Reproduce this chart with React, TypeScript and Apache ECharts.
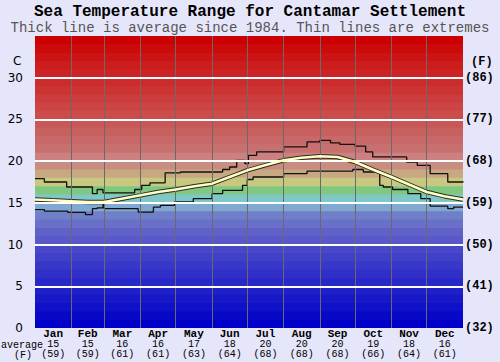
import { useEffect, useRef } from "react";
import * as echarts from "echarts";

const months = ["Jan", "Feb", "Mar", "Apr", "May", "Jun", "Jul", "Aug", "Sep", "Oct", "Nov", "Dec"];
const monthAvgC = [15, 15, 16, 16, 17, 18, 20, 20, 20, 19, 18, 16];
const monthAvgF = [59, 59, 61, 61, 63, 64, 68, 68, 68, 66, 64, 61];
const monthBoundaryDays = [31, 59, 90, 120, 151, 181, 212, 243, 273, 304, 334];
const monthMidDays = [15.5, 45, 74.5, 105, 135.5, 166, 196.5, 227.5, 258, 288.5, 319, 349.5];

const avgDays = [0, 15, 31, 45, 59, 74, 90, 105, 120, 136, 151, 166, 181, 196, 212, 227, 243, 258, 273, 288, 304, 319, 334, 349, 365];
const avgTemps = [15.4, 15.3, 15.2, 15.1, 15.1, 15.5, 15.9, 16.3, 16.6, 17.0, 17.3, 18.1, 18.9, 19.5, 20.1, 20.4, 20.6, 20.5, 19.9, 19.0, 18.1, 17.2, 16.3, 15.8, 15.4];

const maxDays = [0, 8, 27, 43, 49, 53, 58, 85, 91, 98, 111, 124, 160, 166, 172, 179, 182, 189, 212, 232, 243, 252, 260, 273, 282, 288, 317, 326, 337, 352, 365];
const maxTemps = [17.9, 17.5, 16.9, 16.9, 16.1, 16.6, 16.2, 16.6, 17.1, 17.4, 18.6, 18.7, 19.0, 19.3, 20.1, 19.7, 20.7, 21.1, 21.7, 22.3, 22.5, 22.2, 22.0, 21.8, 21.1, 20.5, 19.9, 19.5, 18.5, 17.5, 17.6];

const minDays = [0, 8, 28, 43, 49, 53, 58, 59, 88, 101, 107, 119, 135, 151, 160, 177, 181, 186, 212, 232, 271, 280, 294, 297, 305, 318, 329, 337, 352, 357, 365];
const minTemps = [14.2, 14.0, 13.85, 13.6, 14.3, 14.4, 15.0, 14.3, 13.9, 14.5, 14.7, 15.1, 15.5, 16.1, 16.5, 17.1, 17.8, 18.1, 18.5, 18.8, 19.0, 18.7, 17.1, 16.9, 16.6, 16.1, 15.5, 14.6, 14.3, 14.5, 14.5];

// one colour per 1°C band, from 0-1 up to 34-35
const bandColors = [
  "#0000c8", "#0808c8", "#1010c8", "#1818c8", "#2020c8",
  "#2828c8", "#3030c8", "#3838c8", "#4040c8", "#4848c8",
  "#5858c8", "#6060c8", "#6870c8", "#7080c8", "#80a8d0",
  "#80c8c8", "#80c880", "#c8c880", "#c8a880", "#c88c80",
  "#cc8080", "#c87070", "#c86868", "#c86060", "#c85858",
  "#cc4c4c", "#cc4444", "#cc3c3c", "#cc3434", "#cc2c2c",
  "#cc2424", "#cc1c1c", "#cc1414", "#cc0a0a", "#cc0000",
];
const whiteLineTemps = [5, 10, 15, 20, 25, 30];

const zip = (xs: number[], ys: number[]) => xs.map((x, i) => [x, ys[i]]);

export default function App() {
  const ref = useRef<HTMLDivElement>(null);
  useEffect(() => {
    if (!ref.current) return;
    const chart = echarts.init(ref.current, undefined, { renderer: "svg" });
    const mono = "Liberation Mono";
    chart.setOption({
      animation: false,
      backgroundColor: "#e6e6fa",
      title: {
        text: "Sea Temperature Range for Cantamar Settlement",
        subtext: "Thick line is average since 1984. Thin lines are extremes",
        left: "center",
        top: 4,
        itemGap: 1,
        padding: 0,
        textStyle: { fontFamily: mono, fontWeight: "bold", fontSize: 16, color: "#000" },
        subtextStyle: { fontFamily: mono, fontSize: 14, color: "#555" },
      },
      grid: { left: 35, right: 37, top: 36, bottom: 34 },
      xAxis: {
        type: "value",
        min: 0,
        max: 365,
        axisLine: { show: false },
        axisTick: { show: false },
        splitLine: { show: false },
        axisLabel: {
          customValues: monthMidDays,
          margin: 1,
          formatter: (v: number) => {
            const i = monthMidDays.indexOf(v);
            if (i < 0) return "";
            return `{m|${months[i]}}\n{c|${monthAvgC[i]}}\n{f|(${monthAvgF[i]})}`;
          },
          rich: {
            m: { fontFamily: mono, fontWeight: "bold", fontSize: 11, lineHeight: 10, color: "#000" },
            c: { fontFamily: mono, fontSize: 10, lineHeight: 10, color: "#000" },
            f: { fontFamily: mono, fontSize: 10, lineHeight: 10, color: "#000" },
          },
        },
      },
      yAxis: [
        {
          type: "value",
          min: 0,
          max: 35,
          interval: 5,
          axisLine: { show: false },
          axisTick: { show: false },
          splitLine: { show: false },
          axisLabel: {
            margin: 12,
            fontFamily: "DejaVu Sans",
            fontSize: 12,
            color: "#000",
            formatter: (v: number) => (v === 35 ? "" : String(v)),
          },
        },
        {
          type: "value",
          position: "right",
          min: 0,
          max: 35,
          interval: 5,
          axisLine: { show: false },
          axisTick: { show: false },
          splitLine: { show: false },
          axisLabel: {
            margin: 2,
            fontFamily: mono,
            fontWeight: "bold",
            fontSize: 12,
            color: "#000",
            formatter: (v: number) => (v === 35 ? "" : `(${Math.round((v * 9) / 5 + 32)})`),
          },
        },
      ],
      graphic: [
        { type: "text", left: 13, top: 55, style: { text: "C", font: "12px DejaVu Sans", fill: "#000" } },
        { type: "text", left: 471, top: 56, style: { text: "(F)", font: "bold 12px Liberation Mono", fill: "#000" } },
        { type: "text", left: 1, top: 340, style: { text: "average", font: "10px Liberation Mono", fill: "#000" } },
        { type: "text", left: 14, top: 350, style: { text: "(F)", font: "10px Liberation Mono", fill: "#000" } },
      ],
      series: [
        {
          type: "line",
          z: 1,
          data: [[0, 0]],
          symbol: "none",
          lineStyle: { opacity: 0 },
          silent: true,
          markArea: {
            silent: true,
            label: { show: false },
            // each band drawn from its floor to the top; later bands cover earlier ones
            data: bandColors.map((c, i) => [
              { yAxis: i, itemStyle: { color: c, opacity: 1, borderWidth: 0 } },
              { yAxis: 35 },
            ]),
          },
        },
        {
          type: "line",
          z: 2,
          data: [[0, 0]],
          symbol: "none",
          lineStyle: { opacity: 0 },
          silent: true,
          markLine: {
            silent: true,
            symbol: ["none", "none"],
            label: { show: false },
            data: [
              ...monthBoundaryDays.map((d) => ({ xAxis: d, lineStyle: { color: "#6a6a6a", width: 1, type: "solid" } })),
              ...whiteLineTemps.map((t) => ({ yAxis: t, lineStyle: { color: "#ffffff", width: 2, type: "solid" } })),
            ],
          },
        },
        {
          type: "line",
          z: 3,
          data: zip(maxDays, maxTemps),
          step: "end",
          symbol: "none",
          lineStyle: { color: "#111", width: 1.3 },
        },
        {
          type: "line",
          z: 3,
          data: zip(minDays, minTemps),
          step: "end",
          symbol: "none",
          lineStyle: { color: "#111", width: 1.3 },
        },
        {
          type: "line",
          z: 4,
          data: zip(avgDays, avgTemps),
          symbol: "none",
          lineStyle: { color: "#2a2a2a", width: 4.5 },
        },
        {
          type: "line",
          z: 5,
          data: zip(avgDays, avgTemps),
          symbol: "none",
          lineStyle: { color: "#ffffc0", width: 2.5 },
        },
      ],
    });
    return () => chart.dispose();
  }, []);
  return <div ref={ref} style={{ position: "fixed", left: 0, top: 0, width: 500, height: 362 }} />;
}
